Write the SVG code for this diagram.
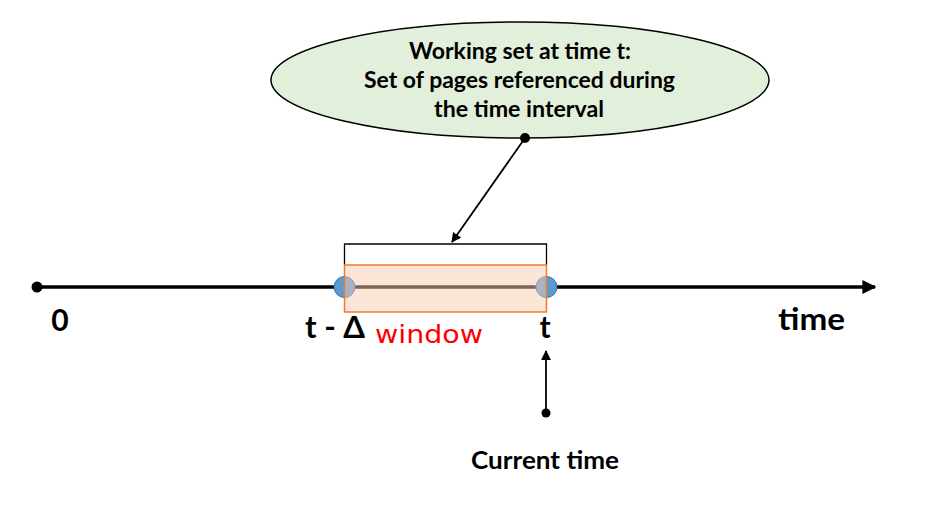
<svg xmlns="http://www.w3.org/2000/svg" width="933" height="527" viewBox="0 0 933 527">
<defs>
<marker id="ah" viewBox="0 0 10 10" refX="9" refY="5" markerWidth="5.5" markerHeight="5.5" orient="auto" markerUnits="strokeWidth">
<path d="M0,0 L10,5 L0,10 z" fill="#000"/>
</marker>
<marker id="ahBig" viewBox="0 0 10 10" refX="9" refY="5" markerWidth="4" markerHeight="4" orient="auto" markerUnits="strokeWidth">
<path d="M0,0 L10,5 L0,10 z" fill="#000"/>
</marker>
</defs>
<style>
.lbl{font-family:Lato,"Open Sans","Liberation Sans",sans-serif;font-weight:bold;fill:#000}
.big{font-size:30px}
.bal{font-size:22px}
.hand{font-family:"DejaVu Sans","Liberation Sans",sans-serif;font-size:25px;font-weight:normal;fill:#ff0000}
</style>
<rect width="933" height="527" fill="#fff"/>
<g id="callout">
<ellipse cx="520" cy="80" rx="249" ry="58" fill="#e2efda" stroke="#000" stroke-width="1.5"/>
<text class="lbl bal" x="409" y="59" textLength="222" lengthAdjust="spacingAndGlyphs">Working set at time t:</text>
<text class="lbl bal" x="364" y="88" textLength="311" lengthAdjust="spacingAndGlyphs">Set of pages referenced during</text>
<text class="lbl bal" x="434" y="117" textLength="170" lengthAdjust="spacingAndGlyphs">the time interval</text>
</g>
<g id="connectors">
<line x1="37" y1="287" x2="875" y2="287" stroke="#000" stroke-width="3.5" marker-end="url(#ahBig)"/>
<circle cx="37" cy="287" r="5.5" fill="#000"/>
<line x1="525" y1="138" x2="452" y2="242" stroke="#000" stroke-width="1.8" marker-end="url(#ah)"/>
<circle cx="525" cy="138" r="5" fill="#000"/>
<line x1="546" y1="413" x2="546" y2="351" stroke="#000" stroke-width="1.8" marker-end="url(#ah)"/>
<circle cx="546" cy="413" r="4.5" fill="#000"/>
</g>
<g id="window">
<path d="M344.5,265 V244 H546.5 V265" fill="none" stroke="#000" stroke-width="1.3"/>
<circle cx="344.5" cy="287" r="10.5" fill="#5b9bd5" stroke="#41719c" stroke-width="1"/>
<circle cx="546.5" cy="287" r="10.5" fill="#5b9bd5" stroke="#41719c" stroke-width="1"/>
<rect x="344.5" y="265" width="202" height="47" fill="rgb(248,203,173)" fill-opacity="0.5" stroke="#ed7d31" stroke-width="1.5"/>
</g>
<g id="labels">
<text class="lbl big" x="60" y="331" text-anchor="middle">0</text>
<text class="lbl big" x="305" y="338" textLength="60" lengthAdjust="spacingAndGlyphs">t - Δ</text>
<text class="lbl big" x="545" y="338" text-anchor="middle">t</text>
<text class="lbl big" x="778" y="330" textLength="67" lengthAdjust="spacingAndGlyphs">time</text>
<text class="hand" x="375" y="343" textLength="108" lengthAdjust="spacingAndGlyphs">window</text>
<text class="lbl" font-size="24" x="471" y="469" textLength="148" lengthAdjust="spacingAndGlyphs">Current time</text>
</g>
</svg>
